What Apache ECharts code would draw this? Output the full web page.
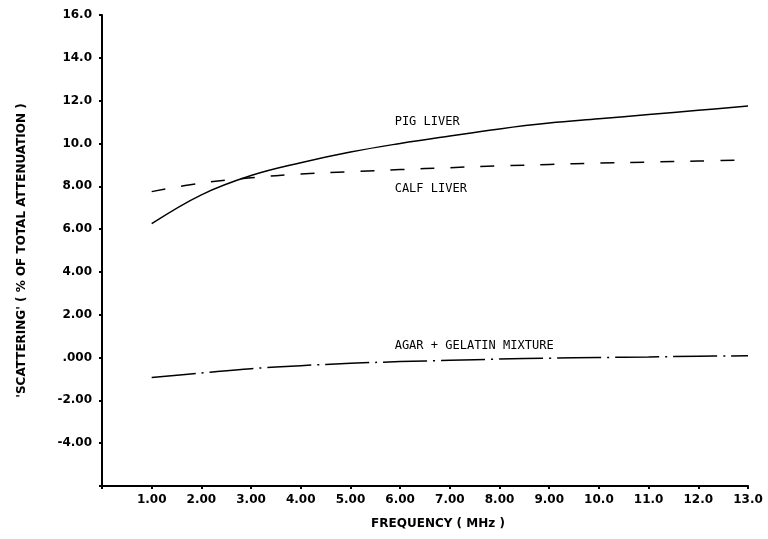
<!DOCTYPE html>
<html>
<head>
<meta charset="utf-8">
<script src="https://cdn.jsdelivr.net/npm/echarts@6/dist/echarts.min.js"></script>
<style>
  html, body { margin: 0; padding: 0; background: #fff; }
  #chart { width: 768px; height: 539px; }
</style>
</head>
<body>
<div id="chart"></div>
<script>
// Frequency (MHz) at which each curve is sampled
const frequency = [1, 2, 3, 4, 5, 6, 7, 8, 9, 10, 11, 12, 13];

// Scattering as % of total attenuation
const pigLiver = [6.25, 7.6, 8.5, 9.1, 9.6, 10.0, 10.35, 10.68, 10.95, 11.15, 11.35, 11.55, 11.75];
const calfLiver = [7.75, 8.15, 8.4, 8.57, 8.68, 8.78, 8.87, 8.95, 9.02, 9.08, 9.13, 9.18, 9.22];
const agarGelatin = [-0.93, -0.72, -0.52, -0.38, -0.27, -0.19, -0.13, -0.07, -0.03, 0.0, 0.03, 0.06, 0.08];

// Tick labels as printed on the axes
const yTickValues = [-4, -2, 0, 2, 4, 6, 8, 10, 12, 14, 16];
const yTickLabels = ['-4.00', '-2.00', '.000', '2.00', '4.00', '6.00', '8.00', '10.0', '12.0', '14.0', '16.0'];
const xTickValues = [1, 2, 3, 4, 5, 6, 7, 8, 9, 10, 11, 12, 13];
const xTickLabels = ['1.00', '2.00', '3.00', '4.00', '5.00', '6.00', '7.00', '8.00', '9.00', '10.0', '11.0', '12.0', '13.0'];

// Curve labels
const curveNames = ['PIG LIVER', 'CALF LIVER', 'AGAR + GELATIN MIXTURE'];

const pairs = (ys) => frequency.map((f, i) => [f, ys[i]]);

const chart = echarts.init(document.getElementById('chart'), null, { renderer: 'canvas' });

const tickFont = {
  color: '#000',
  fontFamily: 'DejaVu Sans',
  fontWeight: 'bold',
  fontSize: 12
};

const option = {
  backgroundColor: '#fff',
  animation: false,
  grid: { left: 102, right: 20, top: 15, bottom: 53 },
  xAxis: {
    type: 'value',
    min: 0,
    max: 13,
    interval: 1,
    name: 'FREQUENCY ( MHz )',
    nameLocation: 'middle',
    nameGap: 32,
    nameTextStyle: Object.assign({}, tickFont, { fontSize: 12, padding: [0, 0, 0, 26] }),
    axisLine: { show: true, onZero: false, lineStyle: { color: '#000', width: 2 } },
    axisTick: { show: true, length: 3, lineStyle: { color: '#000', width: 2 } },
    splitLine: { show: false },
    axisLabel: Object.assign({}, tickFont, {
      margin: 8,
      formatter: (v) => {
        const i = xTickValues.indexOf(v);
        return i >= 0 ? xTickLabels[i] : '';
      }
    })
  },
  yAxis: {
    type: 'value',
    min: -6,
    max: 16,
    interval: 2,
    name: "'SCATTERING' ( % OF TOTAL ATTENUATION )",
    nameLocation: 'middle',
    nameGap: 74,
    nameTextStyle: Object.assign({}, tickFont, { fontSize: 12 }),
    axisLine: { show: true, onZero: false, lineStyle: { color: '#000', width: 2 } },
    axisTick: { show: true, length: 3, lineStyle: { color: '#000', width: 2 } },
    splitLine: { show: false },
    axisLabel: Object.assign({}, tickFont, {
      margin: 10,
      formatter: (v) => {
        const i = yTickValues.indexOf(v);
        return i >= 0 ? yTickLabels[i] : '';
      }
    })
  },
  series: [
    {
      name: curveNames[0],
      type: 'line',
      data: pairs(pigLiver),
      smooth: 0.4,
      showSymbol: false,
      lineStyle: { color: '#000', width: 1.5 }
    },
    {
      name: curveNames[1],
      type: 'line',
      data: pairs(calfLiver),
      smooth: 0.4,
      showSymbol: false,
      lineStyle: { color: '#000', width: 1.5, type: [14, 16] }
    },
    {
      name: curveNames[2],
      type: 'line',
      data: pairs(agarGelatin),
      smooth: 0.4,
      showSymbol: false,
      lineStyle: { color: '#000', width: 1.5, type: [44, 6, 2, 6] }
    }
  ]
};

chart.setOption(option);

// Place each curve's caption near the curve, through the chart's own coordinate conversion
const labelFont = '12px "DejaVu Sans Mono"';
const captions = [
  { text: curveNames[0], at: [5.95, 10.95] },
  { text: curveNames[1], at: [5.95, 7.85] },
  { text: curveNames[2], at: [5.95, 0.5] }
];
chart.setOption({
  graphic: captions.map((c) => {
    const p = chart.convertToPixel({ gridIndex: 0 }, c.at);
    return {
      type: 'text',
      left: p[0] - 3,
      top: p[1] - 7,
      style: { text: c.text, font: labelFont, fill: '#000' }
    };
  })
});
</script>
</body>
</html>
